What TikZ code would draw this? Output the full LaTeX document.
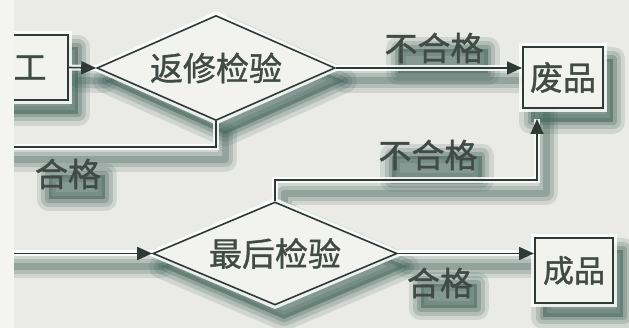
\documentclass[tikz,border=0pt]{standalone}
\usepackage{fontspec}
\setmainfont{Noto Sans CJK SC}[FakeBold=1.2]
\usetikzlibrary{arrows.meta,shapes.geometric}
\definecolor{bgc}{RGB}{234,234,231}
\definecolor{stripc}{RGB}{244,244,242}
\definecolor{inkc}{RGB}{45,58,54}
\definecolor{shdc}{RGB}{60,95,85}
\definecolor{txtc}{RGB}{64,74,71}
\definecolor{fillc}{RGB}{242,242,239}
\pgfdeclarelayer{shadowlayer}
\pgfdeclarelayer{halolayer}
\pgfsetlayers{shadowlayer,halolayer,main}
\tikzset{
  big/.style={font=\fontsize{33}{36}\selectfont, text=txtc},
  boxnode/.style={draw=inkc, line width=2pt, fill=fillc, inner sep=0pt, big},
  decision/.style={diamond, aspect=2.3, draw=inkc, line width=1.6pt, fill=fillc, inner sep=0pt, big},
  lbl/.style={big, inner sep=1pt},
  conn/.style={draw=inkc, line width=1.6pt},
  arr/.style={conn, -{Triangle[length=15pt,width=13pt]}},
  halo/.style={draw=white, line width=6pt, opacity=0.85, line join=miter},
  sh1/.style={draw=shdc, line width=24pt, opacity=0.15, line join=round, line cap=round},
  sh2/.style={draw=shdc, line width=15pt, opacity=0.2, line join=round, line cap=round},
  sh3/.style={draw=shdc, line width=7pt, opacity=0.27, line join=round, line cap=round},
  shoff/.style={transform canvas={shift={(9,13)}}},
}
\newcommand\mkshadow[1]{\path[sh1]#1;\path[sh2]#1;\path[sh3]#1;}
\newcommand\mkshadowfill[1]{\path[sh1,fill=shdc]#1;\path[sh2,fill=shdc]#1;\path[sh3,fill=shdc]#1;}
\begin{document}
\begin{tikzpicture}[x=1pt,y=-1pt]
\begin{pgfonlayer}{shadowlayer}
  \fill[bgc] (0,0) rectangle (629,328);
\end{pgfonlayer}
\useasboundingbox (0,0) rectangle (629,328);

% nodes
\node[boxnode, minimum width=76pt, minimum height=65pt] (gong) at (30,67.5) {工};
\node[decision, minimum width=238pt, minimum height=105pt] (d1) at (216,68) {返修检验};
\node[boxnode, minimum width=80pt, minimum height=61pt] (fei) at (563,77.5) {废品};
\node[decision, minimum width=244pt, minimum height=103pt] (d2) at (275,253.5) {最后检验};
\node[boxnode, minimum width=78pt, minimum height=65pt, font=\fontsize{31}{34}\selectfont] (cheng) at (574,270.5) {成品};

\coordinate (out1) at (0,147);
\coordinate (in1) at (0,253.5);
\coordinate (up1) at ([xshift=-26pt]fei.south);

% labels
\node[lbl] (l1) at (434,48) {不合格};
\node[lbl] (l2) at (428,155) {不合格};
\node[lbl] (l3) at (68,174) {合格};
\node[lbl] (l4) at (440,283) {合格};

% connectors
\draw[arr] (gong.east) -- (d1.west);
\draw[arr] (d1.east) -- (d1.east -| fei.west);
\draw[conn] (d1.south) |- (out1);
\draw[arr] (in1) -- (d2.west);
\draw[arr, shorten >=10pt] (d2.north) -- ++(0,-21) -| (up1);
\draw[arr] (d2.east) -- (d2.east -| cheng.west);

% halos
\begin{pgfonlayer}{halolayer}
  \path[halo] (gong.east) -- (d1.west);
  \path[halo] (d1.east) -- (d1.east -| fei.west);
  \path[halo] (d1.south) |- (out1);
  \path[halo] (in1) -- (d2.west);
  \path[halo, shorten >=10pt] (d2.north) -- ++(0,-21) -| (up1);
  \path[halo] (d2.east) -- (d2.east -| cheng.west);
  \path[halo] (gong.south west) rectangle (gong.north east);
  \path[halo] (fei.south west) rectangle (fei.north east);
  \path[halo] (cheng.south west) rectangle (cheng.north east);
  \path[halo] (d1.north) -- (d1.east) -- (d1.south) -- (d1.west) -- cycle;
  \path[halo] (d2.north) -- (d2.east) -- (d2.south) -- (d2.west) -- cycle;
\end{pgfonlayer}

% shadows
\begin{pgfonlayer}{shadowlayer}
\begin{scope}[shoff]
  \mkshadowfill{(gong.south west) rectangle (gong.north east)}
  \mkshadowfill{(fei.south west) rectangle (fei.north east)}
  \mkshadowfill{(cheng.south west) rectangle (cheng.north east)}
  \mkshadowfill{(d1.north) -- (d1.east) -- (d1.south) -- (d1.west) -- cycle}
  \mkshadowfill{(d2.north) -- (d2.east) -- (d2.south) -- (d2.west) -- cycle}
  \mkshadow{(gong.east) -- (d1.west)}
  \mkshadow{(d1.east) -- (d1.east -| fei.west)}
  \mkshadow{(d1.south) |- (out1)}
  \mkshadow{(in1) -- (d2.west)}
  \mkshadow{(d2.north) -- ++(0,-21) -| ([yshift=10pt]up1)}
  \mkshadow{(d2.east) -- (d2.east -| cheng.west)}
  \mkshadowfill{([shift={(6,-4)}]l1.south west) rectangle ([shift={(-6,4)}]l1.north east)}
  \mkshadowfill{([shift={(6,-4)}]l2.south west) rectangle ([shift={(-6,4)}]l2.north east)}
  \mkshadowfill{([shift={(6,-4)}]l3.south west) rectangle ([shift={(-6,4)}]l3.north east)}
  \mkshadowfill{([shift={(6,-4)}]l4.south west) rectangle ([shift={(-6,4)}]l4.north east)}
\end{scope}
\end{pgfonlayer}

% scan margin strip on the left
\fill[stripc] (0,0) rectangle (14,328);
\end{tikzpicture}
\end{document}
